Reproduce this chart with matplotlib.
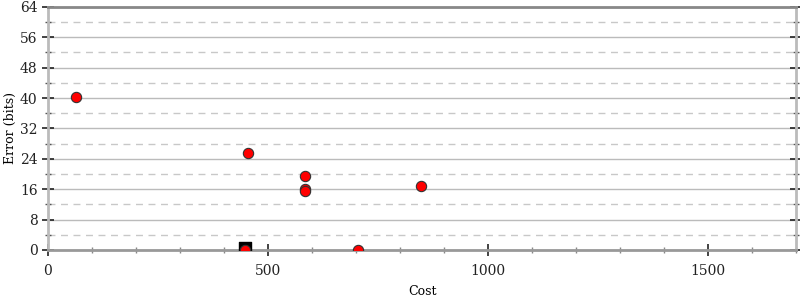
import matplotlib
matplotlib.use('Agg')
import matplotlib.pyplot as plt
from matplotlib.ticker import MultipleLocator

cost = [63, 455, 584, 584, 584, 848, 704, 447]
error = [40.3, 25.5, 19.5, 16.1, 15.5, 16.8, 0.0, 0.0]
best_cost = [447]
best_error = [0.5]

plt.rcParams['font.family'] = 'DejaVu Serif'
plt.rcParams['font.size'] = 9

fig = plt.figure(figsize=(8, 3), dpi=100)
ax = fig.add_axes([0.06, 0.167, 0.935, 0.81])

ax.scatter(best_cost, best_error, marker='s', s=70, color='black', zorder=3)
ax.scatter(cost, error, s=55, color='red', edgecolors='#333333', linewidths=0.8, zorder=4)

ax.set_xlim(0, 1700)
ax.set_ylim(0, 64)
ax.xaxis.set_major_locator(MultipleLocator(500))
ax.xaxis.set_minor_locator(MultipleLocator(100))
ax.yaxis.set_major_locator(MultipleLocator(8))
ax.yaxis.set_minor_locator(MultipleLocator(4))

ax.grid(True, which='major', axis='y', color='#bbbbbb', linewidth=1)
ax.grid(True, which='minor', axis='y', color='#c8c8c8', linewidth=1, linestyle=(0, (5, 4)))
ax.set_axisbelow(True)

ax.spines['left'].set_color('#bbbbbb')
ax.spines['right'].set_color('#bbbbbb')
ax.spines['left'].set_linewidth(2)
ax.spines['right'].set_linewidth(2)
ax.spines['top'].set_color('#888888')
ax.spines['bottom'].set_color('#999999')
ax.spines['top'].set_linewidth(2)
ax.spines['bottom'].set_linewidth(2)

ax.tick_params(axis='y', which='major', direction='inout', length=8, width=1.2, color='#222222', right=True)
ax.tick_params(axis='y', which='minor', direction='inout', length=5, width=1, color='#555555', right=True)
ax.tick_params(axis='x', which='major', direction='inout', length=8, width=1.2, color='#666666', pad=6)
ax.tick_params(axis='x', which='minor', direction='inout', length=4, width=1, color='#888888')
ax.tick_params(labelsize=10, colors='#222222')

ax.set_xlabel('Cost', fontsize=9, labelpad=5)
ax.set_ylabel('Error (bits)', fontsize=9, labelpad=2)

fig.savefig('out.png')
